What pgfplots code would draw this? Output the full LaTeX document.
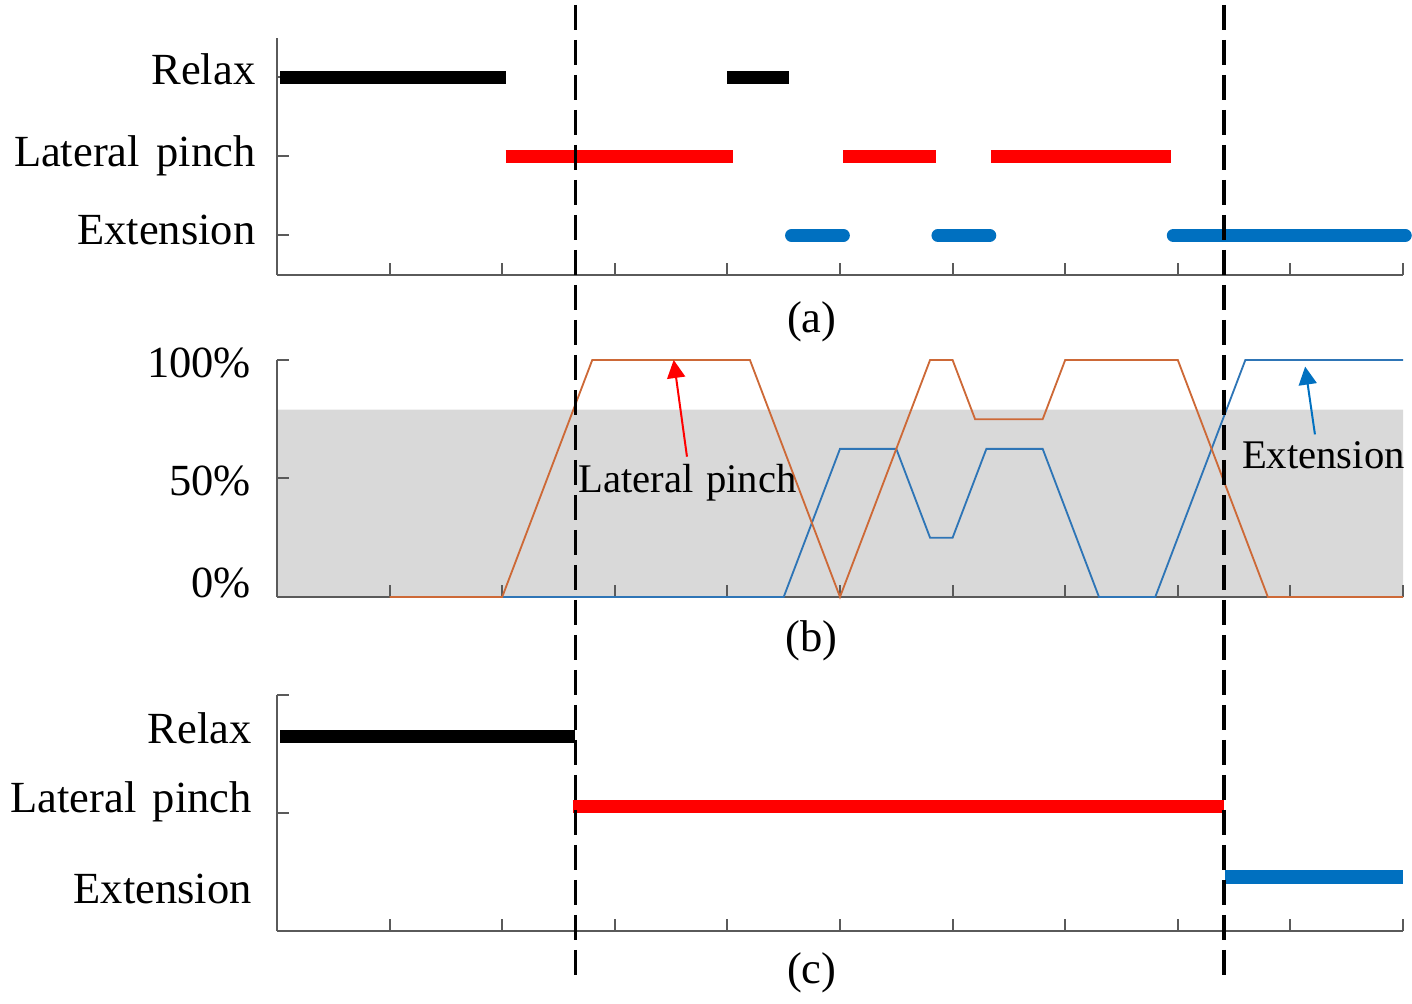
\documentclass[border=0pt]{standalone}
\usepackage{pgfplots}
\pgfplotsset{compat=1.18}
\usetikzlibrary{arrows.meta}
\usepackage{fontspec}
\setmainfont{Liberation Serif}
\definecolor{axgray}{RGB}{90,90,90}
\definecolor{exblue}{RGB}{0,112,192}
\definecolor{lnblue}{RGB}{46,117,182}
\definecolor{lnorange}{RGB}{205,105,55}
\definecolor{shade}{RGB}{217,217,217}
\newcommand{\lbl}{\fontsize{13.35}{16}\selectfont}
\newcommand{\slbl}{\fontsize{12.2}{15}\selectfont}
\pgfplotsset{
  panel/.style={
    scale only axis, width=337.8pt, anchor=south west,
    xmin=0, xmax=10, xtick={0,...,10}, xticklabels={}, yticklabels={},
    axis lines=left, axis line style={-, draw=axgray, line width=0.6pt},
    tick style={draw=axgray, line width=0.6pt}, tick align=inside,
    major tick length=3.5pt, clip=false, font=\lbl,
  },
}
\tikzset{lab/.style={anchor=base east, inner sep=0pt, font=\lbl}}
\begin{document}
\begin{tikzpicture}
\useasboundingbox (0,0) rectangle (423.6pt,301.2pt);
% ---------------- (a) ----------------
\begin{axis}[panel, at={(83.1pt,218.7pt)}, height=71.1pt,
  ymin=0.5, ymax=3.5, ytick={1,2,3}]
\addplot[black, line width=3.9pt] coordinates {(0.03,3) (2.03,3)};
\addplot[black, line width=3.9pt] coordinates {(4.00,3) (4.55,3)};
\addplot[red, line width=3.9pt] coordinates {(2.03,2) (4.05,2)};
\addplot[red, line width=3.9pt] coordinates {(5.03,2) (5.85,2)};
\addplot[red, line width=3.9pt] coordinates {(6.34,2) (7.94,2)};
\addplot[exblue, line width=3.9pt, line cap=round] coordinates {(4.57,1) (5.03,1)};
\addplot[exblue, line width=3.9pt, line cap=round] coordinates {(5.87,1) (6.33,1)};
\addplot[exblue, line width=3.9pt, line cap=round] coordinates {(7.96,1) (10.02,1)};
\node[lab, xshift=-6.3pt] at (axis cs:0,2.905) {Relax};
\node[lab, xshift=-6.3pt] at (axis cs:0,1.871) {Lateral \hspace{0.12em}pinch};
\node[lab, xshift=-6.3pt] at (axis cs:0,0.880) {Extension};
\node[font=\lbl] at (axis cs:4.75,-0.095) {(a)};
\coordinate (d1t) at (axis cs:2.65,3.918);
\coordinate (d2t) at (axis cs:8.41,3.918);
\end{axis}
% ---------------- (b) background band ----------------
\begin{axis}[scale only axis, width=337.8pt, height=71.1pt, anchor=south west,
  at={(83.1pt,122.1pt)}, xmin=0, xmax=10, ymin=0, ymax=100, hide axis]
\addplot[fill=shade, draw=none] coordinates {(0,0) (0,79) (10,79) (10,0)} \closedcycle;
\end{axis}
% ---------------- (b) ----------------
\begin{axis}[panel, at={(83.1pt,122.1pt)}, height=71.1pt,
  ymin=0, ymax=100, ytick={0,50,100}]
\addplot[lnblue, line width=0.55pt] coordinates {
  (2,0) (4.5,0) (5,62.5) (5.5,62.5) (5.8,25) (6,25) (6.3,62.5) (6.8,62.5)
  (7.3,0) (7.8,0) (8.6,100) (10,100)};
\addplot[lnorange, line width=0.55pt] coordinates {
  (1,0) (2,0) (2.8,100) (4.2,100) (5,0) (5.8,100) (6,100) (6.2,75) (6.8,75)
  (7,100) (8,100) (8.8,0) (10,0)};
\node[lab, xshift=-7.6pt] at (axis cs:0,92.8) {100\%};
\node[lab, xshift=-7.6pt] at (axis cs:0,43.0) {50\%};
\node[lab, xshift=-7.6pt] at (axis cs:0,-0.4) {0\%};
\node[anchor=base west, inner sep=0pt, font=\slbl] at (axis cs:2.67,43.9) {Lateral \hspace{0.06em}pinch};
\node[anchor=base west, inner sep=0pt, font=\slbl] at (axis cs:8.565,54.0) {Extension};
\draw[red, line width=0.6pt, -{Triangle[width=5.4pt,length=5.4pt]}]
  (axis cs:3.641,59.2) -- (axis cs:3.523,100);
\draw[exblue, line width=0.6pt, -{Triangle[width=5.4pt,length=5.4pt]}]
  (axis cs:9.218,68.6) -- (axis cs:9.131,97.2);
\node[font=\lbl] at (axis cs:4.75,-18.3) {(b)};
\end{axis}
% ---------------- (c) ----------------
\begin{axis}[panel, at={(83.1pt,21.9pt)}, height=70.8pt,
  ymin=0, ymax=2, ytick={0,1,2}]
\addplot[black, line width=4.1pt] coordinates {(0.03,1.647) (2.65,1.647)};
\addplot[red, line width=4.1pt] coordinates {(2.63,1.056) (8.41,1.056)};
\addplot[exblue, line width=4.1pt] coordinates {(8.42,0.455) (10.0,0.455)};
\node[lab, xshift=-7.4pt] at (axis cs:0,1.593) {Relax};
\node[lab, xshift=-7.4pt] at (axis cs:0,1.008) {Lateral \hspace{0.12em}pinch};
\node[lab, xshift=-7.4pt] at (axis cs:0,0.237) {Extension};
\node[font=\lbl] at (axis cs:4.75,-0.356) {(c)};
\coordinate (d1b) at (axis cs:2.65,-0.39);
\coordinate (d2b) at (axis cs:8.41,-0.39);
\end{axis}
\draw[black, line width=1pt, dash pattern=on 7.5pt off 3pt] (d1t) -- (d1b);
\draw[black, line width=1pt, dash pattern=on 7.5pt off 3pt] (d2t) -- (d2b);
\end{tikzpicture}
\end{document}
